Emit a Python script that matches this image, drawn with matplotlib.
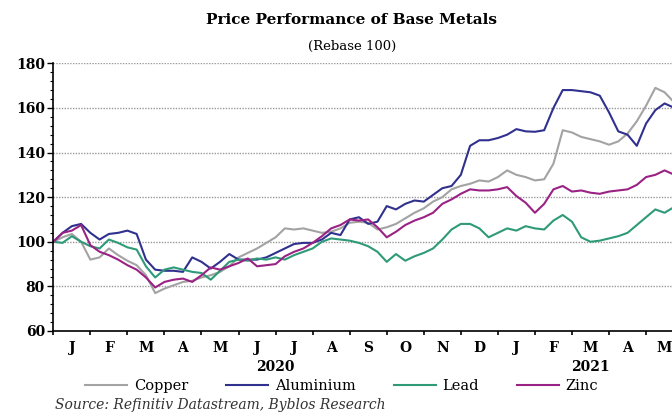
import numpy as np
import matplotlib
matplotlib.use("Agg")
import matplotlib.pyplot as plt
from matplotlib.ticker import MultipleLocator

# time grid: months since 1 Jan 2020 (weekly-ish steps), last point mid-May 2021
months = list(np.arange(0, 16.51, 0.25)) + [16.7]

copper = [100, 102, 103.5, 100, 92, 93, 97, 94, 91.5, 89.5, 85, 77, 79, 80.5, 82, 82.5,
          84, 85, 86.5, 89, 93, 95, 97, 99.5, 102, 106, 105.5, 106, 105, 104, 104.5, 106,
          108.5, 109, 108.5, 105.5, 106.5, 108, 110.5, 113, 115, 118, 120, 123.5, 125, 126,
          127.5, 127, 129, 132, 130, 129, 127.5, 128, 135, 150, 149, 147, 146, 145, 143.5,
          145, 148.5, 154, 161, 169, 167, 163.5]
aluminium = [100, 104, 107, 108, 104, 101, 103.5, 104, 105, 103.5, 92, 87.5, 87, 87, 86.5,
             93, 91, 88, 91, 94.5, 92, 92, 92, 93, 95, 97, 99, 99.5, 99.5, 101, 104, 103,
             110, 111, 108, 109, 116, 114.5, 117, 118.5, 118, 121, 124, 125, 130, 143, 145.5,
             145.5, 146.5, 148, 150.5, 149.5, 149.3, 150, 160, 168, 168, 167.5, 167, 165.5,
             158, 149.5, 148, 143, 153, 159, 162, 160.5]
lead = [100, 99.5, 102.5, 100, 98, 97, 101, 99.5, 97.5, 96.5, 89, 84, 87.5, 88.5, 87.5,
        86.5, 86, 83, 87, 91, 92, 91.5, 92.5, 92, 93, 92, 94, 95.5, 97, 100, 101.5, 101,
        100.5, 99.5, 98, 95.5, 91, 94.5, 91.5, 93.5, 95, 97, 101, 105.5, 108, 108, 106,
        102, 104, 106, 105, 107, 106, 105.5, 109.5, 112, 109, 102, 100, 100.5, 101.5,
        102.5, 104, 107.5, 111, 114.5, 113, 115]
zinc = [100, 104, 105, 107.5, 98.5, 95.5, 94, 92, 89.5, 87.5, 84, 79.5, 82, 83, 83.5, 82,
        85, 88.5, 87.5, 89, 90.5, 92.5, 89, 89.5, 90, 93.5, 95.5, 97, 99.5, 102.5, 106,
        107.5, 110, 109.5, 110, 106.5, 102, 104.5, 107.5, 109.5, 111, 113, 117, 119, 121.5,
        123.5, 123, 123, 123.5, 124.5, 120.5, 117.5, 113, 117, 123.5, 125, 122.5, 123, 122,
        121.5, 122.5, 123, 123.5, 125.5, 129, 130, 132, 130.5]

series_names = ["Copper", "Aluminium", "Lead", "Zinc"]
series_colors = ["#a3a3a3", "#30318e", "#2e9a78", "#9a2284"]
month_labels = ["J", "F", "M", "A", "M", "J", "J", "A", "S", "O", "N", "D",
                "J", "F", "M", "A", "M"]
year_labels = ["2020", "2021"]
y_ticks = [60, 80, 100, 120, 140, 160, 180]

serif = ["DejaVu Serif", "Liberation Serif"]
plt.rcParams["font.family"] = serif

W, H = 672, 416
fig = plt.figure(figsize=(W / 100, H / 100), dpi=100)
ax = fig.add_axes([53.3 / W, 1 - 331 / H, 1 - 53.3 / W, (331 - 63.3) / H])

for vals, name, col in zip([copper, aluminium, lead, zinc], series_names, series_colors):
    ax.plot(months, vals, color=col, lw=1.5, label=name, solid_joinstyle="round")

ax.set_xlim(0, 16.7)
ax.set_ylim(60, 180)
ax.set_yticks(y_ticks)
ax.set_yticklabels([str(v) for v in y_ticks], fontweight="bold", fontsize=10)
ax.yaxis.set_minor_locator(MultipleLocator(4))
ax.set_xticks(np.arange(0, 17))
ax.set_xticklabels([])
ax.set_xticks(np.arange(0.5, 17, 1), minor=True)
ax.set_xticklabels(month_labels, minor=True, fontweight="bold", fontsize=10)
ax.tick_params(axis="x", which="minor", length=0, pad=7)
ax.tick_params(axis="x", which="major", length=3, width=1.2, direction="out")
ax.tick_params(axis="y", which="major", length=4, width=1.0, direction="out", pad=2)
ax.tick_params(axis="y", which="minor", length=2, width=0.8, direction="out")

ax.grid(axis="y", which="major", linestyle=(0, (1, 1)), color="#9a9a9a", lw=1.0)
ax.set_axisbelow(True)
for s in ["top", "right"]:
    ax.spines[s].set_visible(False)
ax.spines["left"].set_linewidth(1.2)
ax.spines["bottom"].set_linewidth(1.2)

# year labels under the months
ax.text(6.0, -0.133, year_labels[0], transform=ax.get_xaxis_transform(),
        ha="center", va="center", fontweight="bold", fontsize=10)
ax.text(14.5, -0.133, year_labels[1], transform=ax.get_xaxis_transform(),
        ha="center", va="center", fontweight="bold", fontsize=10)

fig.text(352 / W, 1 - 20 / H, "Price Performance of Base Metals", ha="center", va="center",
         fontweight="bold", fontsize=11)
fig.text(352 / W, 1 - 46 / H, "(Rebase 100)", ha="center", va="center", fontsize=9.5)

fig.legend(loc="center left", bbox_to_anchor=(85 / W, 1 - 386 / H), ncol=4, frameon=False,
           handlelength=2.9, columnspacing=2.6, handletextpad=0.45, fontsize=10.5,
           borderaxespad=0, borderpad=0)
fig.text(55 / W, 1 - 405 / H, "Source: Refinitiv Datastream, Byblos Research",
         ha="left", va="center", style="italic", fontsize=10, color="#333333")

fig.savefig("out.png", dpi=100)
